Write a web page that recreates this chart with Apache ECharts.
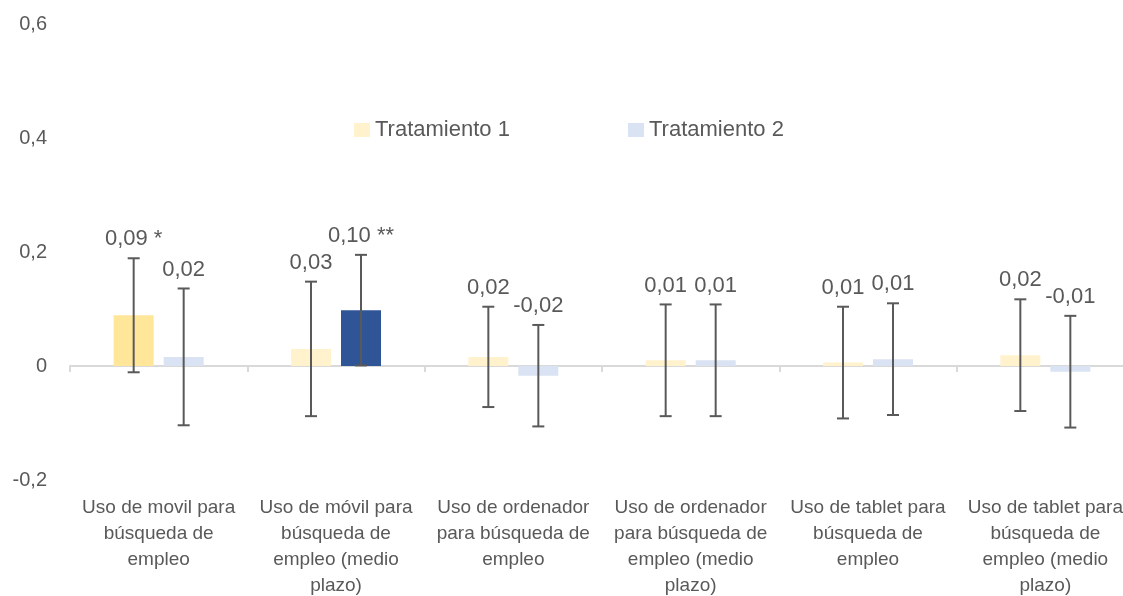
<!DOCTYPE html>
<html>
<head>
<meta charset="utf-8">
<script src="https://cdn.jsdelivr.net/npm/echarts@6/dist/echarts.min.js"></script>
<style>
html,body{margin:0;padding:0;background:#fff;}
#chart{width:1123px;height:596px;}
</style>
</head>
<body>
<div id="chart"></div>
<script>
const categories = [
  'Uso de movil para\nbúsqueda de\nempleo',
  'Uso de móvil para\nbúsqueda de\nempleo (medio\nplazo)',
  'Uso de ordenador\npara búsqueda de\nempleo',
  'Uso de ordenador\npara búsqueda de\nempleo (medio\nplazo)',
  'Uso de tablet para\nbúsqueda de\nempleo',
  'Uso de tablet para\nbúsqueda de\nempleo (medio\nplazo)'
];
const seriesNames = ['Tratamiento 1', 'Tratamiento 2'];
const t1Values = [0.089, 0.030, 0.016, 0.010, 0.006, 0.019];
const t2Values = [0.016, 0.098, -0.017, 0.010, 0.012, -0.010];
const t1Err = [0.100, 0.118, 0.088, 0.098, 0.098, 0.098];
const t2Err = [0.120, 0.097, 0.089, 0.098, 0.098, 0.098];
const t1Labels = ['0,09 *', '0,03', '0,02', '0,01', '0,01', '0,02'];
const t2Labels = ['0,02', '0,10 **', '-0,02', '0,01', '0,01', '-0,01'];
const yMin = -0.2, yMax = 0.6, yStep = 0.2;

const FONT = '"Liberation Sans", Arial, sans-serif';
const TEXT = '#595959';
const BAR_W = 40, BAR_GAP = 10;

function errorSeries(values, errs, labels, offset) {
  return {
    type: 'custom',
    xAxisIndex: 0,
    z: 5,
    silent: true,
    data: values.map((v, i) => [i, v, errs[i]]),
    encode: { x: 0, y: 1 },
    renderItem: function (params, api) {
      const i = api.value(0), v = api.value(1), e = api.value(2);
      const x = api.coord([i, 0])[0] + offset;
      const yHi = api.coord([i, v + e])[1];
      const yLo = api.coord([i, v - e])[1];
      const cap = 6;
      const ls = { stroke: '#595959', lineWidth: 2 };
      return {
        type: 'group',
        children: [
          { type: 'line', shape: { x1: x, y1: yHi, x2: x, y2: yLo }, style: ls },
          { type: 'line', shape: { x1: x - cap, y1: yHi, x2: x + cap, y2: yHi }, style: ls },
          { type: 'line', shape: { x1: x - cap, y1: yLo, x2: x + cap, y2: yLo }, style: ls },
          { type: 'text', style: { text: labels[params.dataIndex], x: x, y: yHi - 8,
              textAlign: 'center', textVerticalAlign: 'bottom',
              font: '22px ' + FONT, fill: TEXT } }
        ]
      };
    }
  };
}

const chart = echarts.init(document.getElementById('chart'), null, { renderer: 'canvas' });
chart.setOption({
  animation: false,
  backgroundColor: '#ffffff',
  textStyle: { fontFamily: FONT, color: TEXT },
  grid: { left: 70, right: -11, top: 24, bottom: 116, containLabel: false, outerBoundsMode: 'none' },
  legend: [
    { data: [seriesNames[0]], left: 354, top: 119, padding: 0, itemWidth: 16, itemHeight: 14, icon: 'rect',
      textStyle: { fontSize: 22, color: TEXT, fontFamily: FONT } },
    { data: [seriesNames[1]], left: 628, top: 119, padding: 0, itemWidth: 16, itemHeight: 14, icon: 'rect',
      textStyle: { fontSize: 22, color: TEXT, fontFamily: FONT } }
  ],
  xAxis: [
    { type: 'category', data: categories, position: 'top',
      axisLine: { onZero: true, lineStyle: { color: '#D9D9D9', width: 2 } },
      axisTick: { show: true, inside: true, length: 6, lineStyle: { color: '#D9D9D9', width: 2 } },
      axisLabel: { show: false }, splitLine: { show: false } },
    { type: 'category', data: categories, position: 'bottom',
      axisLine: { show: false, onZero: false }, axisTick: { show: false },
      axisLabel: { show: true, interval: 0, margin: 15, fontSize: 19, lineHeight: 26,
        color: TEXT, fontFamily: FONT, align: 'center' } }
  ],
  yAxis: {
    type: 'value', min: yMin, max: yMax, interval: yStep,
    axisLine: { show: false }, axisTick: { show: false }, splitLine: { show: false },
    axisLabel: { margin: 23, fontSize: 20, color: TEXT, fontFamily: FONT,
      formatter: v => Math.abs(v) < 1e-9 ? '0' : String(Math.round(v * 10) / 10).replace('.', ',') }
  },
  series: [
    { name: seriesNames[0], type: 'bar', xAxisIndex: 0, barWidth: BAR_W, barGap: '25%',
      itemStyle: { color: '#FFF2CC' },
      data: t1Values.map((v, i) => ({ value: v, itemStyle: { color: t1Labels[i].includes('*') ? '#FFE699' : '#FFF2CC' } })) },
    { name: seriesNames[1], type: 'bar', xAxisIndex: 0, barWidth: BAR_W,
      itemStyle: { color: '#DAE3F3' },
      data: t2Values.map((v, i) => ({ value: v, itemStyle: { color: t2Labels[i].includes('*') ? '#2F5597' : '#DAE3F3' } })) },
    errorSeries(t1Values, t1Err, t1Labels, -(BAR_W + BAR_GAP) / 2),
    errorSeries(t2Values, t2Err, t2Labels, (BAR_W + BAR_GAP) / 2)
  ]
});
</script>
</body>
</html>
